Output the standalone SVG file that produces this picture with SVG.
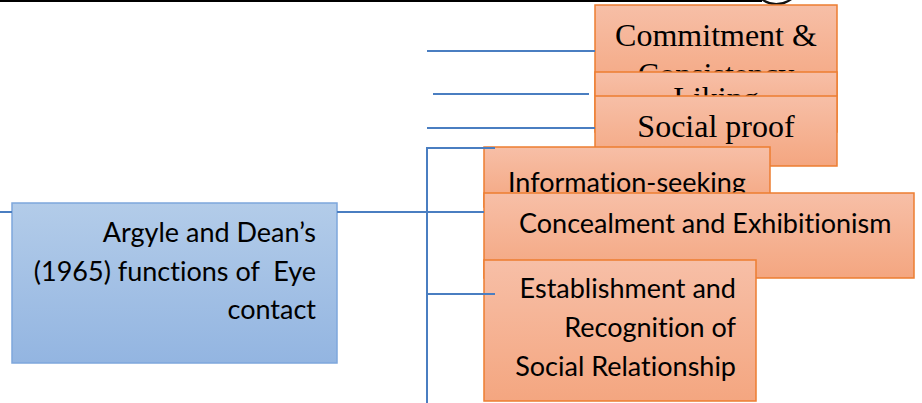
<svg xmlns="http://www.w3.org/2000/svg" width="922" height="403" viewBox="0 0 922 403">
<defs>
<linearGradient id="og" x1="0" y1="0" x2="0" y2="1"><stop offset="0" stop-color="#F7BFA7"/><stop offset="1" stop-color="#F4A680"/></linearGradient>
<linearGradient id="bg" x1="0" y1="0" x2="0" y2="1"><stop offset="0" stop-color="#B3CCE9"/><stop offset="1" stop-color="#93B5E1"/></linearGradient>
<style>
.ob{fill:url(#og);stroke:#ED7D31;stroke-width:1.5}
.bb{fill:url(#bg);stroke:#7EA7DC;stroke-width:1.5}
.serif{font-family:"Liberation Serif","Times New Roman",serif;font-size:32px;fill:#000;text-anchor:middle}
.sans{font-family:Lato,"Open Sans",sans-serif;font-size:27px;fill:#000;font-variant-ligatures:none}
.r{text-anchor:end}
.c{stroke:#4A7EC1;stroke-width:2;fill:none}
</style>
</defs>
<rect width="922" height="403" fill="#fff"/>
<line x1="0" y1="1" x2="762" y2="1" stroke="#000" stroke-width="2"/>
<path d="M761 0 Q776 11 792 0 L788 0 Q776 6 765 0 Z" fill="#111"/>
<g id="argyle">
<rect class="bb" x="12" y="203" width="325" height="160"/>
<text class="sans r" x="316" xml:space="preserve"><tspan x="316" y="242">Argyle and Dean’s</tspan><tspan x="316" y="281">(1965) functions of  Eye</tspan><tspan x="316" y="319">contact</tspan></text>
</g>
<g id="commitment">
<rect class="ob" x="595" y="5" width="242" height="90"/>
<text class="serif" x="716"><tspan x="716" y="46">Commitment &amp;</tspan><tspan x="716" y="85">Consistency</tspan></text>
</g>
<g id="liking">
<rect class="ob" x="595" y="72" width="242" height="60"/>
<text class="serif" x="716" y="109">Liking</text>
</g>
<g id="social-proof">
<rect class="ob" x="595" y="96" width="242" height="70"/>
<text class="serif" x="716" y="137">Social proof</text>
</g>
<g id="information-seeking">
<rect class="ob" x="484" y="147" width="286" height="60"/>
<text class="sans" x="508" y="192">Information-seeking</text>
</g>
<g id="concealment">
<rect class="ob" x="484" y="193" width="430" height="85"/>
<text class="sans" x="519" y="233">Concealment and Exhibitionism</text>
</g>
<g id="establishment">
<rect class="ob" x="484" y="260" width="272" height="141"/>
<text class="sans r" x="736"><tspan x="736" y="298">Establishment and</tspan><tspan x="736" y="337">Recognition of</tspan><tspan x="736" y="376">Social Relationship</tspan></text>
</g>
<g id="connectors">
<line class="c" x1="0" y1="212" x2="12" y2="212"/>
<line class="c" x1="337" y1="212" x2="427" y2="212"/>
<line class="c" x1="427" y1="212" x2="484" y2="212"/>
<path class="c" d="M495 148 H427 V403"/>
<line class="c" x1="427" y1="294" x2="495" y2="294"/>
<line class="c" x1="427" y1="51" x2="595" y2="51"/>
<line class="c" x1="433" y1="94" x2="589" y2="94"/>
<line class="c" x1="427" y1="128" x2="595" y2="128"/>
</g>
</svg>
